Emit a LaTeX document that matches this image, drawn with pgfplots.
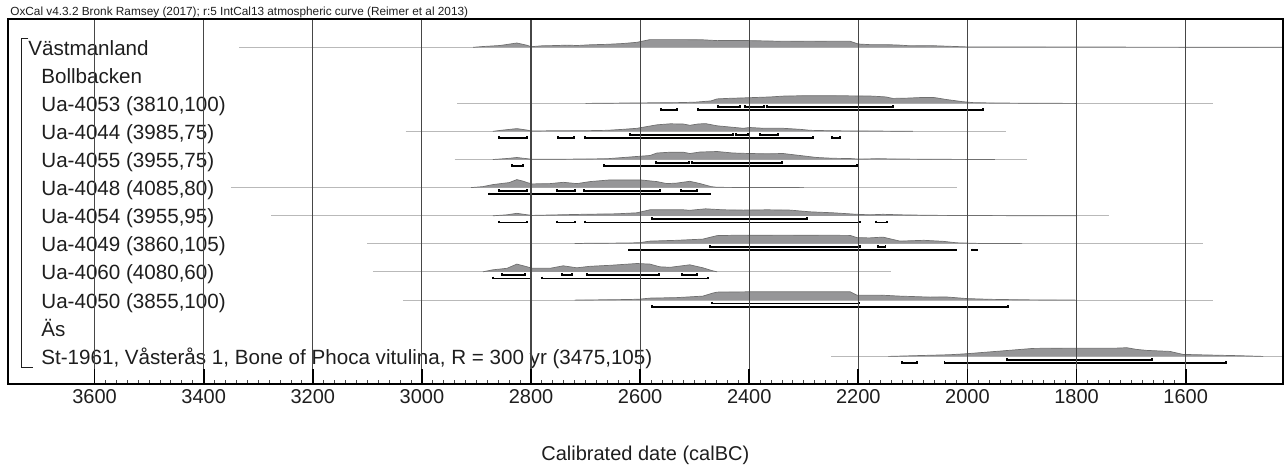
\documentclass[border=0pt]{standalone}
\usepackage{fontspec}
\setmainfont{Liberation Sans}
\usepackage{pgfplots}
\pgfplotsset{compat=1.18}
\usetikzlibrary{calc}

\definecolor{distfill}{RGB}{150,150,152}
\definecolor{distedge}{RGB}{112,112,112}
\definecolor{basecol}{RGB}{185,185,185}
\definecolor{gridcol}{RGB}{70,70,70}
\definecolor{textcol}{RGB}{30,30,30}

% y axis is in picture rows (top = small), heights given above each baseline
\newcommand{\dist}[2]{\addplot[draw=distedge, fill=distfill, line width=0.35pt]
  table[row sep=\\, y expr={#1-\thisrowno{1}}] {#2};}
\newcommand{\rng}[3]{\addplot[black, line width=0.85pt]
  table[row sep=\\, y expr={#1-\thisrowno{1}}] {#2 1.8\\ #2 0\\ #3 0\\ #3 1.8\\};}
\newcommand{\bl}[3]{\addplot[basecol, line width=0.5pt] coordinates {(#2,#1) (#3,#1)};}
\newcommand{\lab}[3]{\node[anchor=base west, inner sep=0pt, text=textcol,
  font=\fontsize{10.3}{12}\selectfont] at (axis cs:#1,#2) {#3};}

\begin{document}
\begin{tikzpicture}
\begin{axis}[
  scale only axis,
  width=637.35pt, height=182.35pt,
  x dir=reverse, y dir=reverse,
  xmin=1422.2, xmax=3758.7,
  ymin=19.3, ymax=384,
  clip=false,
  axis on top,
  axis line style={black, line width=0.9pt},
  xtick={1600,1800,...,3600},
  minor x tick num=9,
  ytick=\empty,
  xtick pos=left,
  tick align=inside,
  major tick length=7.5pt,
  minor tick length=2pt,
  major tick style={black, line width=0.9pt},
  minor tick style={gridcol, line width=0.45pt},
  xmajorgrids=true,
  major grid style={gridcol, line width=0.55pt},
  /pgf/number format/1000 sep={},
  /pgf/number format/assume math mode=true,
  xticklabel style={font=\fontsize{10}{12}\selectfont, text=textcol, inner sep=0pt},
  xticklabel shift=2.5pt,
  xlabel={Calibrated date (calBC)},
  every axis x label/.style={at={(axis description cs:0.5,0)}, anchor=north, yshift=-31pt,
    inner sep=0pt, font=\fontsize{10}{12}\selectfont, text=textcol},
  title={OxCal v4.3.2 Bronk Ramsey (2017); r:5 IntCal13 atmospheric curve (Reimer et al 2013)},
  every axis title/.style={at={(axis description cs:0,1)}, anchor=base west, xshift=1pt, yshift=2.15pt,
    inner sep=0pt, font=\fontsize{5.9}{7}\selectfont, text=textcol},
]

% Västmanland (sum)
\bl{47.3}{3335}{1422.2}
\dist{47.3}{2906 0\\ 2888 0.8\\ 2857 1.8\\ 2826 4.3\\ 2807 2\\ 2800 0.6\\ 2780 1.5\\ 2752 1.8\\ 2734 2.2\\ 2716 1.8\\ 2692 2.5\\ 2660 3\\ 2631 3.8\\ 2606 5\\ 2582 7.7\\ 2545 7.7\\ 2521 7.7\\ 2485 7.5\\ 2459 6.7\\ 2430 6.8\\ 2399 6.7\\ 2338 6\\ 2289 6.2\\ 2246 6\\ 2215 6\\ 2200 3.3\\ 2180 2.7\\ 2150 2.7\\ 2124 2.2\\ 2105 1.5\\ 2069 1.7\\ 2032 1\\ 2001 0.4\\ 1950 0.4\\ 1850 0.3\\ 1700 0.2\\ 1500 0.1\\ 1423 0\\}

% Ua-4053
\bl{103.4}{2935}{1550}
\dist{103.4}{2700 0\\ 2600 0.5\\ 2530 0.8\\ 2500 1.2\\ 2470 2.5\\ 2459 4.5\\ 2440 5\\ 2400 5.7\\ 2360 6.5\\ 2338 7.3\\ 2300 7.7\\ 2250 7.7\\ 2205 7.5\\ 2175 7.3\\ 2150 6.5\\ 2137 5\\ 2110 5.3\\ 2080 6\\ 2060 5.8\\ 2040 4\\ 2010 1.8\\ 1990 0.8\\ 1950 0.4\\ 1890 0.2\\ 1800 0\\}
\rng{106.8}{2457}{2417}
\rng{106.8}{2408}{2373}
\rng{106.8}{2367}{2137}
\rng{110.1}{2562}{2533}
\rng{110.1}{2494}{1972}

% Ua-4044
\bl{131.3}{3030}{1930}
\dist{131.3}{2870 0\\ 2855 1\\ 2826 2.7\\ 2807 1.2\\ 2800 0.3\\ 2765 0.5\\ 2700 0.6\\ 2660 1\\ 2631 2\\ 2606 3\\ 2590 4.5\\ 2569 6.5\\ 2545 7.5\\ 2521 7.3\\ 2509 6\\ 2494 7.3\\ 2480 7.7\\ 2459 5.5\\ 2430 4\\ 2411 3\\ 2399 3.8\\ 2373 3\\ 2338 3\\ 2307 2\\ 2289 1\\ 2246 0.5\\ 2179 0.3\\ 2100 0\\}
\rng{134.7}{2619}{2430}
\rng{134.7}{2424}{2402}
\rng{134.7}{2380}{2347}
\rng{138}{2859}{2807}
\rng{138}{2751}{2721}
\rng{138}{2701}{2283}
\rng{138}{2248}{2234}

% Ua-4055
\bl{159.5}{2940}{1890}
\dist{159.5}{2870 0\\ 2844 1\\ 2826 2\\ 2807 0.8\\ 2800 0.3\\ 2750 0.3\\ 2700 0.5\\ 2660 0.8\\ 2619 2.5\\ 2582 4\\ 2569 6.5\\ 2545 7.3\\ 2521 7.3\\ 2509 6\\ 2490 7.5\\ 2470 7.8\\ 2459 8\\ 2430 6.5\\ 2399 6\\ 2367 5.7\\ 2338 6\\ 2307 4\\ 2276 2\\ 2246 1.2\\ 2215 1\\ 2200 0.4\\ 2165 0.8\\ 2130 0.5\\ 2050 0.2\\ 1950 0\\}
\rng{162.9}{2571}{2510}
\rng{162.9}{2505}{2340}
\rng{166.2}{2835}{2815}
\rng{166.2}{2666}{2203}

% Ua-4048
\bl{187.6}{3350}{2020}
\dist{187.6}{2910 0\\ 2888 1\\ 2870 3\\ 2851 4.3\\ 2840 5\\ 2826 8\\ 2815 6.5\\ 2807 5\\ 2798 3.7\\ 2765 4\\ 2741 5.3\\ 2716 4\\ 2692 6\\ 2655 7.7\\ 2630 7.7\\ 2600 7.7\\ 2569 6\\ 2551 4\\ 2533 4.5\\ 2509 6.3\\ 2490 4\\ 2470 1\\ 2459 0.3\\ 2400 0.1\\ 2300 0\\}
\rng{191}{2859}{2807.5}
\rng{191}{2752}{2719.5}
\rng{191}{2703}{2564}
\rng{191}{2525}{2496}
\rng{194.3}{2877}{2472}

% Ua-4054
\bl{215.8}{3276}{1740}
\dist{215.8}{2870 0\\ 2844 1\\ 2826 2.5\\ 2807 1\\ 2798 0.4\\ 2765 0.8\\ 2705 1.5\\ 2643 2\\ 2606 3\\ 2582 6\\ 2521 6\\ 2509 5.5\\ 2480 7\\ 2448 6\\ 2411 5.7\\ 2367 6\\ 2325 5.7\\ 2289 4\\ 2246 3\\ 2203 1.5\\ 2179 1\\ 2155 1.5\\ 2124 1\\ 2069 0.5\\ 2000 0.3\\ 1900 0.1\\ 1800 0\\}
\rng{219.2}{2578}{2294}
\rng{222.5}{2859}{2807.5}
\rng{222.5}{2752}{2719.5}
\rng{222.5}{2701}{2197}
\rng{222.5}{2168}{2148}

% Ua-4049
\bl{243.6}{3100}{1569}
\dist{243.6}{2720 0\\ 2700 0.3\\ 2620 0.6\\ 2600 1\\ 2582 2.5\\ 2533 3.3\\ 2485 4.5\\ 2459 8\\ 2430 8.3\\ 2338 8.5\\ 2246 8.3\\ 2215 8.2\\ 2203 6\\ 2180 5.7\\ 2155 6.5\\ 2124 2.5\\ 2080 3.3\\ 2045 2.3\\ 2020 0.8\\ 1980 0.2\\ 1900 0\\}
\rng{247}{2472}{2197}
\rng{247}{2164}{2150}
\rng{250.3}{2621}{2021}
\rng{250.3}{1992}{1983}

% Ua-4060
\bl{271.8}{3090}{2140}
\dist{271.8}{2888 0\\ 2870 2\\ 2844 3.5\\ 2826 7.7\\ 2807 5\\ 2798 3.5\\ 2765 3.5\\ 2741 6\\ 2716 4\\ 2692 5.5\\ 2655 6.5\\ 2606 8.3\\ 2582 7.7\\ 2564 5\\ 2545 4.5\\ 2509 7\\ 2485 4\\ 2467 1\\ 2459 0\\}
\rng{275.2}{2853}{2811}
\rng{275.2}{2743}{2725}
\rng{275.2}{2698}{2566}
\rng{275.2}{2523}{2496}
\rng{278.5}{2870}{2799}
\rng{278.5}{2780}{2476}

% Ua-4050
\bl{300.1}{3035}{1550}
\dist{300.1}{2720 0\\ 2620 0.6\\ 2600 1\\ 2582 2\\ 2533 2.5\\ 2485 4\\ 2467 7\\ 2459 8\\ 2400 8.3\\ 2300 8.3\\ 2215 8.3\\ 2203 5\\ 2160 5\\ 2124 4\\ 2069 3\\ 2040 3.2\\ 2000 1.5\\ 1959 0.8\\ 1900 0.3\\ 1800 0\\}
\rng{303.5}{2468}{2199}
\rng{306.8}{2578}{1926}

% St-1961
\bl{356.4}{2250}{1422.2}
\dist{356.4}{2145 0\\ 2032 1.7\\ 2001 2.7\\ 1941 5.3\\ 1880 8\\ 1818 8.3\\ 1760 8.3\\ 1726 8.3\\ 1708 8.7\\ 1690 7\\ 1671 6\\ 1629 5\\ 1605 2\\ 1550 1.3\\ 1501 0.7\\ 1458 0\\}
\rng{359.8}{1928}{1662}
\rng{363.1}{2120}{2093}
\rng{363.1}{2042}{1526}

% labels
\lab{3722}{55.3}{Västmanland}
\lab{3698.2}{83.4}{Bollbacken}
\lab{3698.2}{111.4}{Ua-4053 (3810,100)}
\lab{3698.2}{139.3}{Ua-4044 (3985,75)}
\lab{3698.2}{167.5}{Ua-4055 (3955,75)}
\lab{3698.2}{195.6}{Ua-4048 (4085,80)}
\lab{3698.2}{223.8}{Ua-4054 (3955,95)}
\lab{3698.2}{251.6}{Ua-4049 (3860,105)}
\lab{3698.2}{279.8}{Ua-4060 (4080,60)}
\lab{3698.2}{308.1}{Ua-4050 (3855,100)}
\lab{3698.2}{336.3}{Äs}
\lab{3698.2}{364.4}{St-1961, Våsterås 1, Bone of Phoca vitulina, R = 300 yr (3475,105)}

\draw[textcol, line width=0.65pt] (axis cs:3721.5,38.5) -- (axis cs:3734.5,38.5)
  -- (axis cs:3734.5,367.3) -- (axis cs:3712.3,367.3);
\end{axis}
\pgfresetboundingbox
\path[use as bounding box] ($(current axis.south west)+(-4pt,-44pt)$) rectangle ($(current axis.north east)+(1.15pt,9.65pt)$);
\end{tikzpicture}
\end{document}
